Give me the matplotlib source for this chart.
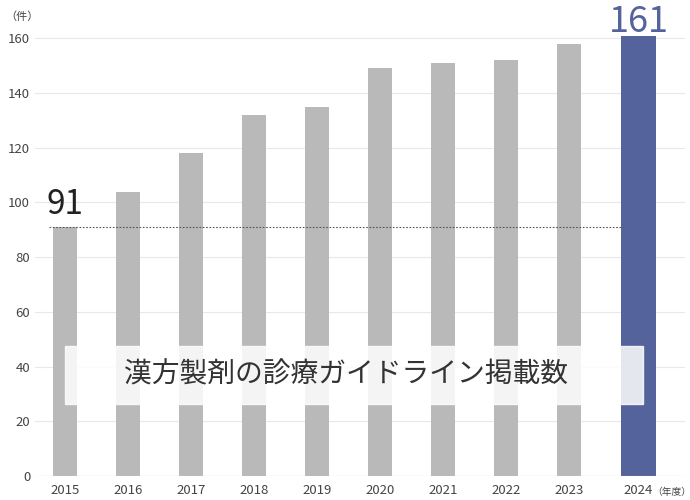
import numpy as np
import matplotlib
matplotlib.use("Agg")
from matplotlib import pyplot as plt

plt.rcParams['font.family'] = ['Noto Sans CJK JP', 'DejaVu Sans']

years = ["2015", "2016", "2017", "2018", "2019", "2020", "2021", "2022", "2023", "2024"]
counts = [91, 104, 118, 132, 135, 149, 151, 152, 158, 161]

x = np.arange(len(years), dtype=float)
x[-1] += 0.1  # last bar sits a little further right

fig = plt.figure(figsize=(6.9, 5), dpi=100)
ax = fig.add_axes([35/690, 24/500, 650/690, 465/500])

gray = "#b9b9b9"
blue = "#55639c"
ax.bar(x[:-1], counts[:-1], width=0.38, color=gray, zorder=2)
ax.bar(x[-1], counts[-1], width=0.56, color=blue, zorder=2)

ax.set_ylim(0, 170)
ax.set_xlim(-0.48, 9.84)
ax.set_yticks(range(0, 161, 20))
ax.grid(axis="y", color="#e8e8e8", linewidth=0.8, zorder=0)
ax.set_xticks(x)
ax.set_xticklabels(years)
ax.tick_params(length=0, labelsize=9.5, colors="#444444")
ax.tick_params(axis="x", pad=6)
for s in ax.spines.values():
    s.set_visible(False)
ax.axhline(0, color="#cccccc", linewidth=0.8, zorder=3)

# reference line at the first year's value
ax.plot([-0.25, 8.85], [counts[0], counts[0]], linestyle=(0, (1.5, 1.5)),
        color="#555555", linewidth=0.8, zorder=3)
ax.text(x[0] - 0.3, counts[0] + 2, str(counts[0]), fontsize=24,
        color="#222222", ha="left", va="bottom")
ax.text(x[-1], counts[-1] - 1.5, str(counts[-1]), fontsize=26,
        color=blue, ha="center", va="bottom")

# title banner over the bars
ax.axhspan(26.5, 47.5, xmin=(0 + 0.48) / 10.32, xmax=(9.17 + 0.48) / 10.32,
           color="white", alpha=0.85, zorder=4)
ax.text(4.45, 37, "漢方製剤の診療ガイドライン掲載数", fontsize=20,
        color="#333333", ha="center", va="center", zorder=5)

fig.text(5/690, 1 - 17/500, "（件）", fontsize=8, color="#444444", va="center")
fig.text(652/690, 1 - 492/500, "（年度）", fontsize=7, color="#444444", va="center")

fig.savefig("out.png", dpi=100)
